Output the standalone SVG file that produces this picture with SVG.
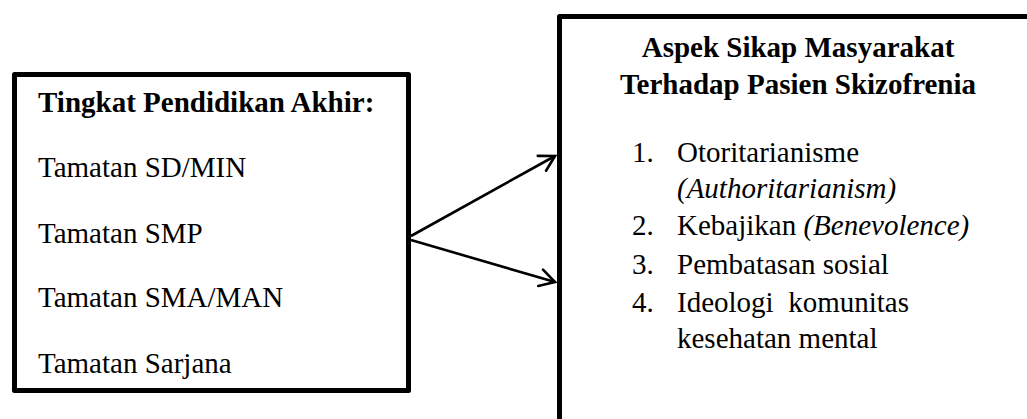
<svg xmlns="http://www.w3.org/2000/svg" width="1027" height="419" viewBox="0 0 1027 419">
<style>
.box{fill:#fff;stroke:#000;stroke-width:5;stroke-linejoin:round}
.t{font-family:"Liberation Serif","Times New Roman",serif;font-size:29px;fill:#000}
.b{font-weight:bold}
.i{font-style:italic}
.conn{stroke:#000;stroke-width:2.6;fill:none}
</style>
<defs>
<marker id="ah" markerUnits="userSpaceOnUse" markerWidth="30" markerHeight="30" refX="0" refY="0" viewBox="-20 -15 25 30" orient="auto" overflow="visible">
<path d="M -15 -8.5 L 0 0 L -15 8.5" fill="none" stroke="#000" stroke-width="2.6" stroke-linecap="round" stroke-linejoin="miter"/>
</marker>
</defs>
<rect width="1027" height="419" fill="#fff"/>
<g id="node-pendidikan">
<rect class="box" x="14.5" y="74.5" width="394" height="316"/>
<text class="t b" x="38" y="112">Tingkat Pendidikan Akhir:</text>
<text class="t" x="38" y="177">Tamatan SD/MIN</text>
<text class="t" x="38" y="243">Tamatan SMP</text>
<text class="t" x="38" y="307">Tamatan SMA/MAN</text>
<text class="t" x="38" y="373">Tamatan Sarjana</text>
</g>
<g id="node-sikap">
<rect class="box" x="559.5" y="16.5" width="520" height="460"/>
<text class="t b" x="798" y="57" text-anchor="middle">Aspek Sikap Masyarakat</text>
<text class="t b" x="798" y="94" text-anchor="middle">Terhadap Pasien Skizofrenia</text>
<text class="t" x="632" y="162">1.</text>
<text class="t" x="677" y="162">Otoritarianisme</text>
<text class="t i" x="677" y="198">(Authoritarianism)</text>
<text class="t" x="632" y="235">2.</text>
<text class="t" x="677" y="235">Kebajikan <tspan class="i">(Benevolence)</tspan></text>
<text class="t" x="632" y="274">3.</text>
<text class="t" x="677" y="274">Pembatasan sosial</text>
<text class="t" x="632" y="312">4.</text>
<text class="t" x="677" y="312" xml:space="preserve">Ideologi  komunitas</text>
<text class="t" x="677" y="348">kesehatan mental</text>
</g>
<g id="connectors">
<line class="conn" x1="411" y1="236" x2="555" y2="156" marker-end="url(#ah)"/>
<line class="conn" x1="411" y1="240" x2="555" y2="282" marker-end="url(#ah)"/>
</g>
</svg>
